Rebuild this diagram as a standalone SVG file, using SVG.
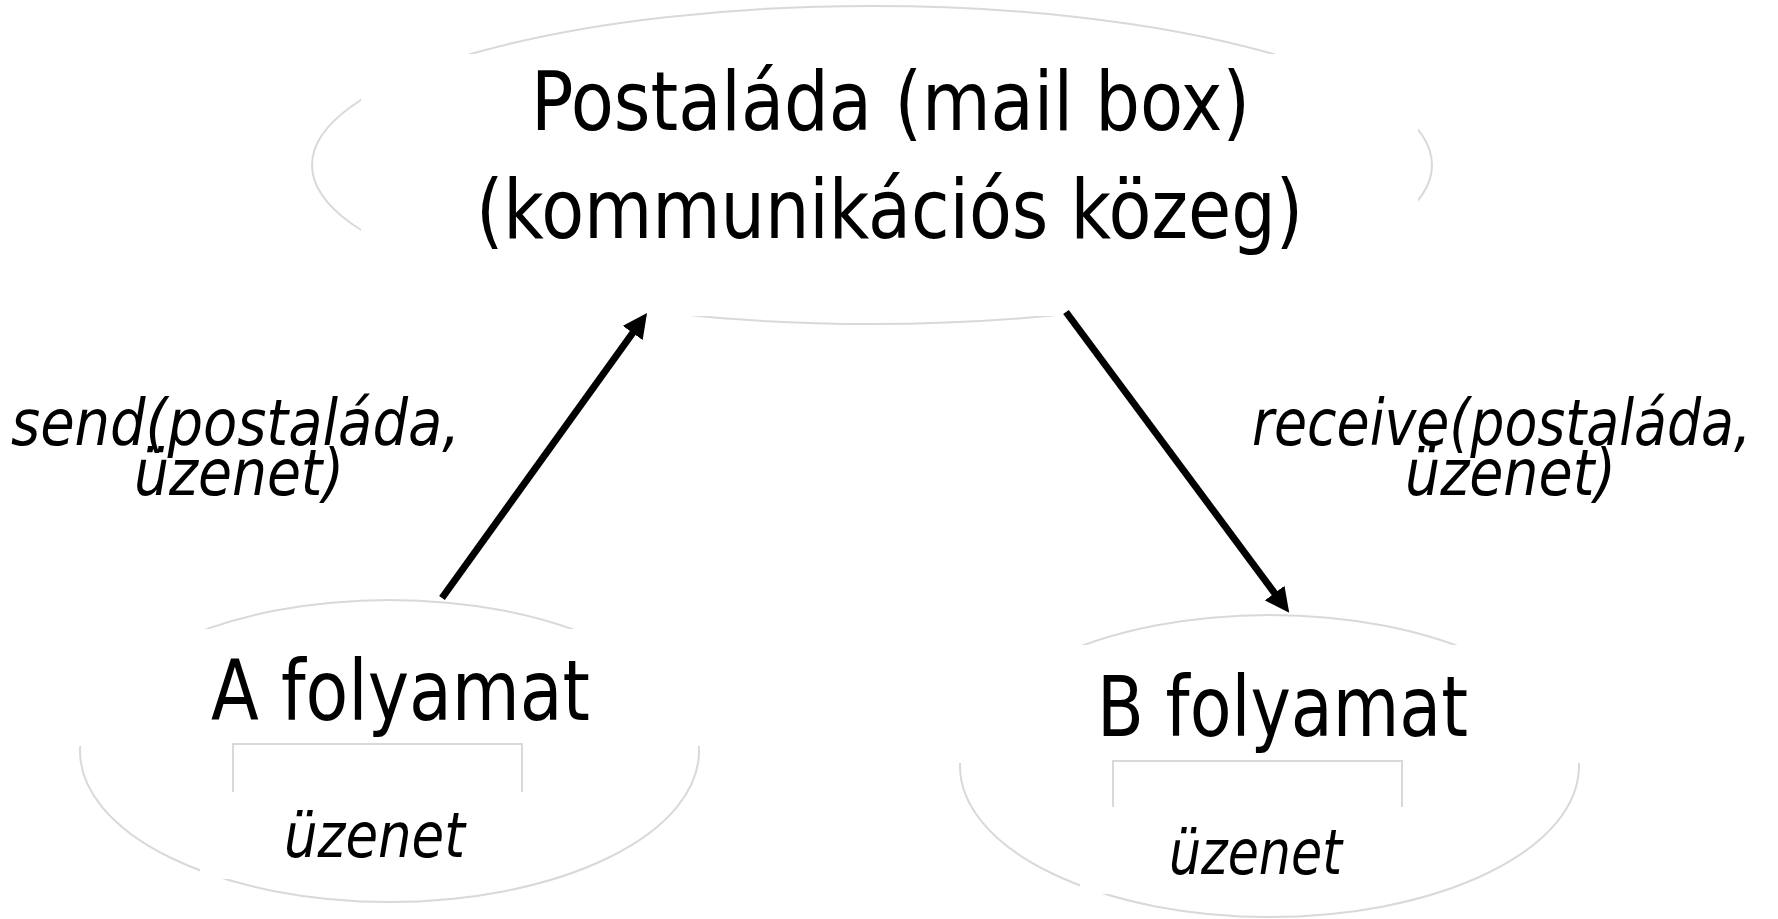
<svg xmlns="http://www.w3.org/2000/svg" width="1778" height="919" viewBox="0 0 1778 919">
  <defs>
    <style>
      .shape { fill: none; stroke: #d9d9d9; stroke-width: 2; }
      .mask { fill: #ffffff; stroke: none; }
      .title { font-family: "DejaVu Sans Condensed", "DejaVu Sans", "Liberation Sans", sans-serif; font-stretch: condensed; fill: #000000; }
      .label { font-family: "DejaVu Sans Condensed", "DejaVu Sans", "Liberation Sans", sans-serif; font-stretch: condensed; font-style: italic; fill: #000000; }
      .flow { stroke: #000000; stroke-width: 7; fill: none; marker-end: url(#head); }
    </style>
    <marker id="head" viewBox="0 0 10 10" refX="3" refY="5" markerWidth="3.5" markerHeight="3.5" orient="auto" markerUnits="strokeWidth">
      <path d="M0,0 L10,5 L0,10 z" fill="#000000"/>
    </marker>
  </defs>

  <rect x="0" y="0" width="1778" height="919" fill="#ffffff"/>

  <!-- shared mailbox -->
  <g id="mailbox">
    <ellipse class="shape" cx="872" cy="165" rx="560" ry="159"/>
    <rect class="mask" x="361" y="54" width="1057" height="262"/>
    <text class="title" x="531" y="130" font-size="82" textLength="719" lengthAdjust="spacingAndGlyphs">Postaláda (mail box)</text>
    <text class="title" x="476" y="238" font-size="82" textLength="827" lengthAdjust="spacingAndGlyphs">(kommunikációs közeg)</text>
  </g>

  <!-- process A -->
  <g id="process-a">
    <ellipse class="shape" cx="389.5" cy="751" rx="309.5" ry="151"/>
    <rect class="mask" x="60" y="629" width="680" height="117"/>
    <path class="shape" d="M233,792 V744 H522 V792"/>
    <rect class="mask" x="200" y="792" width="345" height="87"/>
    <text class="title" x="211" y="720" font-size="83" textLength="379" lengthAdjust="spacingAndGlyphs">A folyamat</text>
    <text class="label" x="284" y="857" font-size="62" textLength="181" lengthAdjust="spacingAndGlyphs">üzenet</text>
  </g>

  <!-- process B -->
  <g id="process-b">
    <ellipse class="shape" cx="1269.5" cy="766" rx="309.5" ry="151"/>
    <rect class="mask" x="940" y="645" width="680" height="118"/>
    <path class="shape" d="M1113,807 V761 H1402 V807"/>
    <rect class="mask" x="1080" y="807" width="345" height="87"/>
    <text class="title" x="1097" y="736" font-size="83" textLength="371" lengthAdjust="spacingAndGlyphs">B folyamat</text>
    <text class="label" x="1169" y="874" font-size="62" textLength="173" lengthAdjust="spacingAndGlyphs">üzenet</text>
  </g>

  <!-- operation labels -->
  <g id="send-label">
    <text class="label" x="11" y="445" font-size="64" textLength="449" lengthAdjust="spacingAndGlyphs">send(postaláda,</text>
    <text class="label" x="134" y="495" font-size="64" textLength="210" lengthAdjust="spacingAndGlyphs">üzenet)</text>
  </g>
  <g id="receive-label">
    <text class="label" x="1252" y="445" font-size="64" textLength="499" lengthAdjust="spacingAndGlyphs">receive(postaláda,</text>
    <text class="label" x="1405" y="495" font-size="64" textLength="211" lengthAdjust="spacingAndGlyphs">üzenet)</text>
  </g>

  <!-- message flow -->
  <g id="connectors">
    <line class="flow" x1="442" y1="598" x2="637" y2="327"/>
    <line class="flow" x1="1066" y1="312" x2="1279" y2="599"/>
  </g>
</svg>
